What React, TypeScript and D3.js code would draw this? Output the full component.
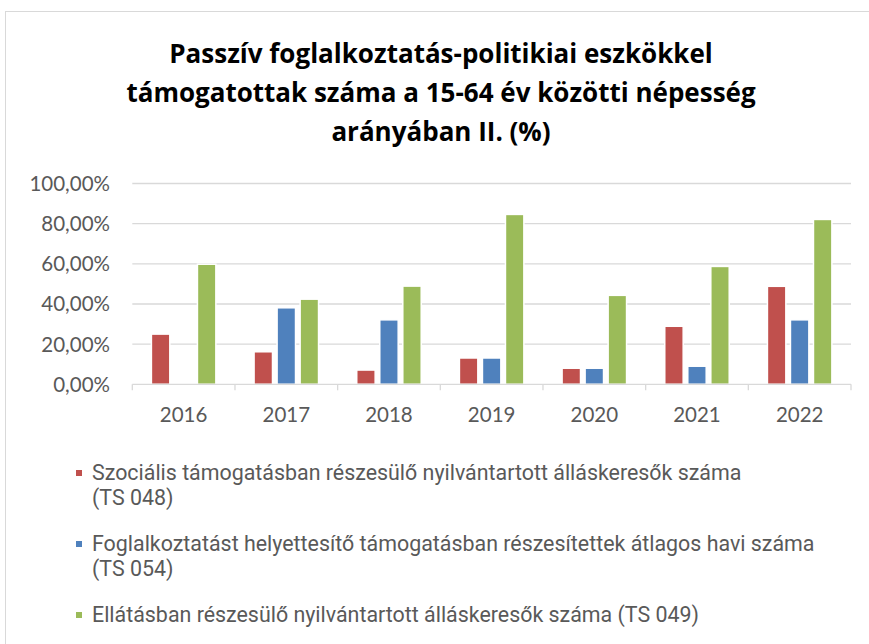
import React from "react";
import * as d3 from "d3";

const years = ["2016", "2017", "2018", "2019", "2020", "2021", "2022"];
const legendLines = [
  ["Szociális támogatásban részesülő nyilvántartott álláskeresők száma", "(TS 048)"],
  ["Foglalkoztatást helyettesítő támogatásban részesítettek átlagos havi száma", "(TS 054)"],
  ["Ellátásban részesülő nyilvántartott álláskeresők száma (TS 049)"],
];
const ts048 = [25.0, 16.2, 7.1, 13.1, 8.0, 28.9, 48.8];
const ts054 = [0, 38.1, 32.1, 13.1, 8.0, 9.0, 32.1];
const ts049 = [59.8, 42.4, 48.9, 84.6, 44.3, 58.7, 82.1];
const seriesValues = [ts048, ts054, ts049];
const colors = ["#C0504D", "#4F81BD", "#9BBB59"];
const yTicks = [0, 20, 40, 60, 80, 100];
const titleLines = [
  "Passzív foglalkoztatás-politikiai eszkökkel",
  "támogatottak száma a 15-64 év közötti népesség",
  "arányában II. (%)",
];

const W = 869;
const H = 644;
const FONT_AXIS = "Lato, 'Open Sans', sans-serif";
const FONT_TEXT = "Roboto, Lato, sans-serif";
const FONT_TITLE = "'Open Sans', Roboto, sans-serif";

export default function App() {
  const left = 132.3;
  const right = 851;
  const y = d3.scaleLinear().domain([0, 100]).range([384.3, 183.5]);
  const x0 = d3.scaleBand<string>().domain(years).range([left, right]).paddingInner(0).paddingOuter(0);
  const x1 = d3
    .scaleBand<number>()
    .domain([0, 1, 2])
    .range([0, x0.bandwidth()])
    .paddingInner(0.2)
    .paddingOuter(0.83);
  const fmt = (v: number) => d3.format(".2f")(v).replace(".", ",") + "%";
  const tickXs = years.map((yr) => x0(yr) as number).concat([right]);

  return (
    <svg
      width={W}
      height={H}
      style={{ position: "absolute", left: 0, top: 0, background: "#fff" }}
      fontFamily={FONT_AXIS}
    >
      <rect x={0} y={0} width={W} height={H} fill="#fff" />
      <rect x={5.5} y={11.5} width={W + 20} height={H + 20} fill="#fff" stroke="#d9d9d9" strokeWidth={1} />
      {titleLines.map((t, i) => (
        <text
          key={i}
          x={441}
          y={62.7 + i * 39}
          textAnchor="middle"
          fontSize={26}
          fontWeight={700}
          fontFamily={FONT_TITLE}
          fill="#000"
        >
          {t}
        </text>
      ))}
      {yTicks.map((t) => (
        <g key={t}>
          {t > 0 && (
            <line x1={left} x2={right} y1={y(t)} y2={y(t)} stroke="#d9d9d9" strokeWidth={1.3} />
          )}
          <text x={110} y={y(t)} dy="0.36em" textAnchor="end" fontSize={20.5} fill="#595959">
            {fmt(t)}
          </text>
        </g>
      ))}
      {years.map((yr, i) => (
        <g key={yr}>
          {seriesValues.map((vals, s) =>
            vals[i] > 0 ? (
              <rect
                key={s}
                x={(x0(yr) as number) + (x1(s) as number)}
                y={y(vals[i])}
                width={x1.bandwidth()}
                height={y(0) - y(vals[i])}
                fill={colors[s]}
                stroke="#fff"
                strokeWidth={1.5}
              />
            ) : null
          )}
          <text
            x={(x0(yr) as number) + x0.bandwidth() / 2}
            y={415}
            dy="0.36em"
            textAnchor="middle"
            fontSize={20.5}
            fill="#595959"
          >
            {yr}
          </text>
        </g>
      ))}
      <line x1={left} x2={right} y1={y(0)} y2={y(0)} stroke="#d9d9d9" strokeWidth={1.3} />
      {tickXs.map((tx, i) => (
        <line key={i} x1={tx} x2={tx} y1={y(0)} y2={y(0) + 6} stroke="#d9d9d9" strokeWidth={1.3} />
      ))}
      {legendLines.map((lines, i) => {
        const baseY = 480 + i * 71;
        return (
          <g key={i}>
            <rect x={76} y={baseY - 10} width={6} height={6} fill={colors[i]} />
            {lines.map((ln, j) => (
              <text key={j} x={92} y={baseY + j * 25} fontSize={21.4} fontFamily={FONT_TEXT} fill="#595959">
                {ln}
              </text>
            ))}
          </g>
        );
      })}
    </svg>
  );
}
